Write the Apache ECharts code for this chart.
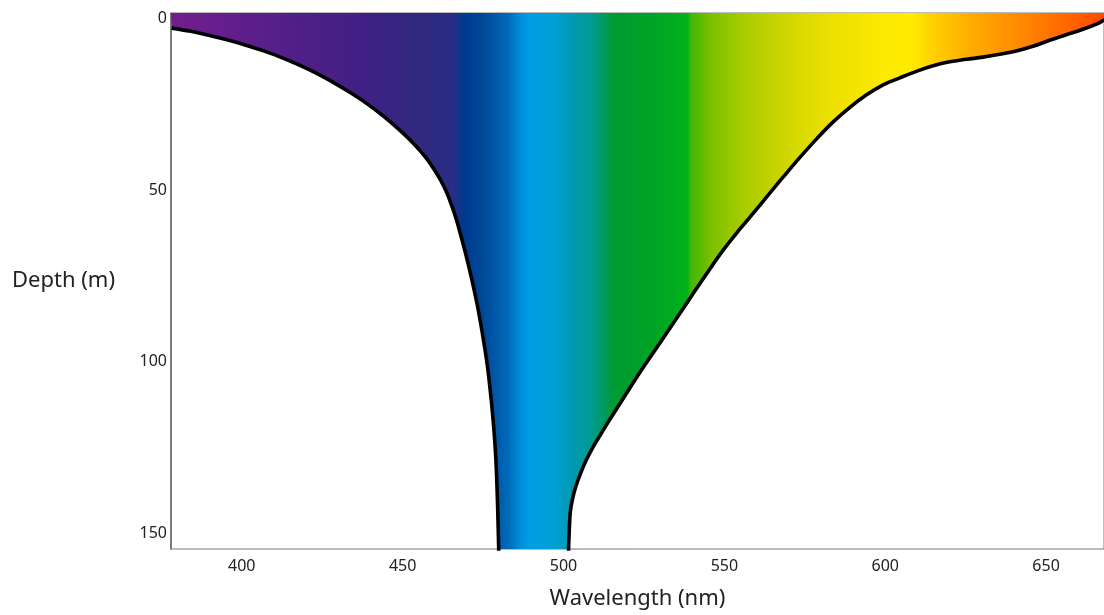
<!DOCTYPE html>
<html>
<head>
<meta charset="utf-8">
<title>Light penetration by wavelength</title>
<script src="https://cdn.jsdelivr.net/npm/echarts@6/dist/echarts.min.js"></script>
<style>
  html, body { margin: 0; padding: 0; background: #ffffff; }
  #chart { width: 1104px; height: 615px; }
</style>
</head>
<body>
<div id="chart"></div>
<script>
// Axis ranges and tick labels
const X_MIN = 378, X_MAX = 668;
const Y_MIN = -1.6, Y_MAX = 154.6;
const wavelengthTicks = [400, 450, 500, 550, 600, 650];
const depthTicks = [0, 50, 100, 150];

// Short-wavelength edge of the penetration envelope (nm, m)
const leftEdgeNm    = [378.2, 384.17, 390.38, 396.59, 402.79, 409.00, 415.21, 421.42, 427.62, 433.83, 439.42, 444.69, 449.35, 453.38, 456.80, 459.59, 461.76, 463.63, 465.18, 466.74, 468.29, 469.84, 471.40, 472.95, 474.18, 475.42, 476.35, 477.28, 477.90, 478.52, 478.99, 479.36, 479.64, 479.86, 480.0];
const leftEdgeDepth = [2.8,   3.73,   5.05,   6.50,   8.25,   10.15,  12.48,  15.11,  18.17,  21.67,  25.17,  28.96,  32.75,  36.40,  40.04,  43.69,  47.04,  50.54,  54.33,  58.71,  63.96,  69.49,  75.62,  82.33,  88.45,  95.45,  101.28, 108.86, 114.70, 121.70, 128.70, 137.45, 146.20, 154.66, 158];

// Long-wavelength edge of the penetration envelope (nm, m)
const rightEdgeNm    = [501.55, 501.58, 501.80, 502.11, 502.73, 503.66, 505.21, 507.08, 509.34, 511.42, 513.50, 516.08, 518.65, 523.83, 529.02, 534.17, 539.39, 544.54, 549.69, 554.87, 559.84, 564.18, 568.31, 573.49, 578.68, 583.83, 589.01, 594.20, 599.35, 604.53, 609.71, 614.87, 620.05, 625.23, 630.38, 635.57, 640.75, 645.90, 651.08, 656.27, 661.42, 666.57, 667.81, 668.2];
const rightEdgeDepth = [158,    154.66, 149.11, 143.86, 140.36, 136.86, 132.78, 128.69, 124.61, 121.41, 118.20, 114.41, 110.61, 103.03, 95.89,  88.74,  81.45,  74.31,  67.45,  61.33,  55.79,  50.83,  46.17,  40.48,  35.08,  30.13,  25.90,  22.25,  19.34,  17.29,  15.40,  13.79,  12.63,  11.90,  11.26,  10.44,  9.48,   8.11,   6.36,   4.75,   3.15,   1.25,   0.52,   0.3];

// Visible-spectrum colours by wavelength
const spectrumNm    = [378, 397, 418, 438, 454, 465.5, 467.5, 469, 475, 482.6, 486.6, 489.7, 496, 503, 508, 511.5, 515.5, 524, 534, 538.6, 539.6, 542.5, 545.6, 555.8, 566.4, 576.6, 586.8, 597.4, 607.6, 614.8, 625.3, 635.6, 645.8, 656.3, 668];
const spectrumColor = ['#721e8c', '#621f8c', '#4f1f87', '#402084', '#31287f', '#2b2c84', '#123489', '#003a8e', '#004898', '#0068b8', '#008ed8', '#009ee5', '#00a0d8', '#009ab0', '#009a98', '#009a70', '#009a34', '#00a028', '#00ab20', '#00b418', '#44b808', '#5cba00', '#7ac000', '#a8cc00', '#c8d400', '#e0dc00', '#f0e200', '#fae800', '#ffec00', '#ffd000', '#ffb000', '#ff9800', '#ff8000', '#ff6800', '#ff4800'];

const leftEdge = leftEdgeNm.map((x, i) => [x, leftEdgeDepth[i]]);
const rightEdge = rightEdgeNm.map((x, i) => [x, rightEdgeDepth[i]]);

// Outline of the lit region: surface, down the blue edge, up the red edge
const envelope = [[X_MIN, Y_MIN]].concat(leftEdge, rightEdge, [[X_MAX + 1, Y_MIN]]);

const colorStops = spectrumNm.map((nm, i) => ({
  offset: (nm - X_MIN) / (X_MAX - X_MIN),
  color: spectrumColor[i]
}));

const FONT = 'Noto Sans';
const chart = echarts.init(document.getElementById('chart'), null, { renderer: 'canvas' });

chart.setOption({
  animation: false,
  backgroundColor: '#ffffff',
  grid: {
    left: 171, top: 13, right: -3, bottom: 66,
    show: true, borderColor: '#777777', borderWidth: 1, backgroundColor: 'transparent'
  },
  xAxis: {
    type: 'value',
    min: X_MIN, max: X_MAX,
    name: 'Wavelength (nm)',
    nameLocation: 'middle',
    nameGap: 39,
    nameTextStyle: { fontFamily: FONT, fontSize: 22, color: '#222222' },
    axisLine: { show: true, lineStyle: { color: '#666666', width: 1.5 } },
    axisTick: { show: false },
    splitLine: { show: false },
    axisLabel: {
      customValues: wavelengthTicks,
      margin: 9,
      fontFamily: FONT, fontSize: 16, color: '#222222'
    }
  },
  yAxis: {
    type: 'value',
    inverse: true,
    min: Y_MIN, max: Y_MAX,
    name: 'Depth (m)',
    nameLocation: 'middle',
    nameRotate: 0,
    nameGap: 56,
    nameTextStyle: { fontFamily: FONT, fontSize: 22, color: '#222222' },
    axisLine: { show: true, lineStyle: { color: '#666666', width: 1.5 } },
    axisTick: { show: false },
    splitLine: { show: false },
    axisLabel: {
      customValues: depthTicks,
      margin: 4,
      fontFamily: FONT, fontSize: 16, color: '#222222'
    }
  },
  series: [
    {
      type: 'custom',
      clip: true,
      silent: true,
      z: 1,
      data: [[X_MIN, 0]],
      renderItem: function (params, api) {
        const pts = envelope.map(p => api.coord(p));
        const x0 = api.coord([X_MIN, 0])[0];
        const x1 = api.coord([X_MAX, 0])[0];
        return {
          type: 'polygon',
          shape: { points: pts },
          style: {
            fill: { type: 'linear', x: x0, y: 0, x2: x1, y2: 0, global: true, colorStops: colorStops },
            stroke: null
          }
        };
      }
    },
    {
      type: 'line',
      data: leftEdge,
      smooth: 0.4,
      symbol: 'none',
      clip: true,
      z: 3,
      lineStyle: { color: '#000000', width: 3.6 }
    },
    {
      type: 'line',
      data: rightEdge,
      smooth: 0.4,
      symbol: 'none',
      clip: true,
      z: 3,
      lineStyle: { color: '#000000', width: 3.6 }
    }
  ]
});
</script>
</body>
</html>
